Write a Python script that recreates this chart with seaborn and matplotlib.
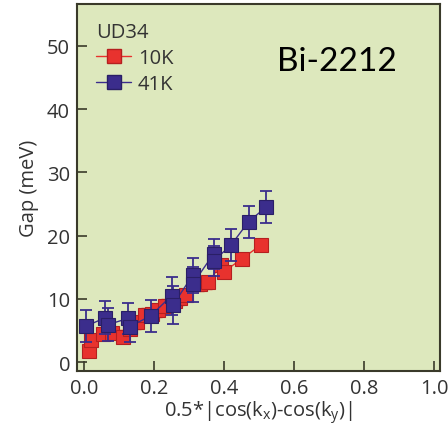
import matplotlib
matplotlib.use("Agg")
import matplotlib.pyplot as plt
import seaborn as sns
import pandas as pd
import numpy as np
from matplotlib.lines import Line2D

# ---- data ----
red_x = [0.015, 0.02, 0.055, 0.08, 0.11, 0.13, 0.15, 0.175, 0.195, 0.21, 0.23, 0.26,
         0.275, 0.29, 0.33, 0.355, 0.39, 0.40, 0.45, 0.505]
red_y = [1.8, 3.5, 4.5, 4.6, 4.0, 5.3, 6.3, 7.5, 7.6, 8.2, 8.9, 9.6,
         10.1, 10.6, 12.3, 12.6, 15.3, 14.3, 16.3, 18.5]
red_err = [1.0] * len(red_x)

blue_x = [0.006, 0.06, 0.067, 0.125, 0.13, 0.19, 0.25, 0.255, 0.31, 0.31, 0.37, 0.37, 0.42, 0.47, 0.52]
blue_y = [5.7, 7.0, 5.9, 6.9, 5.6, 7.3, 10.5, 9.1, 13.7, 12.3, 17.1, 16.0, 18.5, 22.2, 24.5]
blue_err = [2.5, 2.6, 2.6, 2.4, 2.4, 2.5, 3.0, 3.0, 2.8, 2.8, 2.4, 2.4, 2.5, 2.5, 2.5]

labels = ["10K", "41K"]
x_ticks = [0.0, 0.2, 0.4, 0.6, 0.8, 1.0]
y_ticks = [0, 10, 20, 30, 40, 50]

RED = "#e8322e"
BLUE = "#3b2d8c"
BG = "#dde8bd"

sns.set_style("ticks")
plt.rcParams['font.family'] = ['Open Sans', 'DejaVu Sans']

fig = plt.figure(figsize=(4.48, 4.31), dpi=100)
ax = fig.add_axes([0.172, 0.137, 0.810, 0.851])
ax.set_facecolor(BG)

df_r = pd.DataFrame({"x": red_x, "y": red_y})
df_b = pd.DataFrame({"x": blue_x, "y": blue_y})

ax.errorbar(red_x, red_y, yerr=red_err, fmt='none', ecolor=RED, elinewidth=1.0,
            capsize=3, capthick=1.0, zorder=2)
sns.lineplot(data=df_r, x="x", y="y", sort=False, estimator=None, ax=ax, color=RED,
             lw=1.0, marker='s', markersize=10.5, markerfacecolor=RED,
             markeredgecolor="#b52020", markeredgewidth=0.8, zorder=3)
ax.errorbar(blue_x, blue_y, yerr=blue_err, fmt='none', ecolor=BLUE, elinewidth=1.3,
            capsize=4, capthick=1.3, zorder=4)
sns.lineplot(data=df_b, x="x", y="y", sort=False, estimator=None, ax=ax, color=BLUE,
             lw=1.0, marker='s', markersize=10.5, markerfacecolor=BLUE,
             markeredgecolor="#2a1f66", markeredgewidth=0.8, zorder=5)

ax.set_xlim(-0.02, 1.017)
ax.set_ylim(-1.4, 56.6)
ax.set_xticks(x_ticks)
ax.set_xticklabels([f"{v:.1f}" for v in x_ticks])
ax.set_yticks(y_ticks)
ax.tick_params(direction='in', length=7, width=1.2, color="#3a3a2a",
               labelsize=14.5, labelcolor="#333333", pad=5)
for s in ax.spines.values():
    s.set_color("#3a3a2a")
    s.set_linewidth(1.5)

ax.set_xlabel(r"0.5*|cos(k$_\mathregular{x}$)-cos(k$_\mathregular{y}$)|",
              fontsize=14.5, color="#333333", labelpad=0)
ax.set_ylabel("Gap (meV)", fontsize=14.5, color="#333333", labelpad=6)

handles = [Line2D([], [], color=RED, lw=1.0, marker='s', markersize=10.5,
                  markeredgecolor="#b52020"),
           Line2D([], [], color=BLUE, lw=1.0, marker='s', markersize=10.5,
                  markeredgecolor="#2a1f66")]
leg = ax.legend(handles, labels, title="UD34", loc="upper left",
                bbox_to_anchor=(0.02, 0.985), frameon=False, fontsize=14.5,
                title_fontsize=14.5, handlelength=1.7, handletextpad=0.35,
                labelspacing=0.3, borderaxespad=0.3, borderpad=0.3)
leg._legend_box.align = "left"
for t in leg.get_texts():
    t.set_color("#333333")
leg.get_title().set_color("#333333")

ax.text(0.88, 0.845, "Bi-2212", transform=ax.transAxes, ha="right", va="center",
        fontsize=24, family=["Lato", "DejaVu Sans"], color="black")

fig.savefig("out.png", dpi=100)
